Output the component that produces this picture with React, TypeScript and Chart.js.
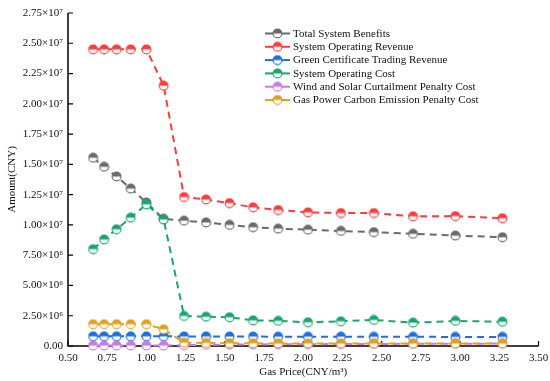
import React, { useEffect, useRef } from "react";
import { Chart, registerables } from "chart.js";

Chart.register(...registerables);

const gasPrice = [0.66, 0.73, 0.81, 0.9, 1.0, 1.11, 1.24, 1.38, 1.53, 1.68, 1.84, 2.03, 2.24, 2.45, 2.7, 2.97, 3.27];

const totalSystemBenefits = [1.555e7, 1.48e7, 1.4e7, 1.3e7, 1.185e7, 1.05e7, 1.035e7, 1.02e7, 1.0e7, 0.981e7, 0.969e7, 0.961e7, 0.95e7, 0.94e7, 0.926e7, 0.912e7, 0.898e7];
const systemOperatingRevenue = [2.45e7, 2.45e7, 2.45e7, 2.45e7, 2.45e7, 2.15e7, 1.23e7, 1.21e7, 1.18e7, 1.145e7, 1.123e7, 1.104e7, 1.098e7, 1.098e7, 1.071e7, 1.073e7, 1.055e7];
const greenCertificateRevenue = [0.08e7, 0.08e7, 0.08e7, 0.08e7, 0.08e7, 0.08e7, 0.079e7, 0.079e7, 0.078e7, 0.078e7, 0.077e7, 0.077e7, 0.077e7, 0.076e7, 0.076e7, 0.075e7, 0.075e7];
const systemOperatingCost = [0.8e7, 0.88e7, 0.964e7, 1.06e7, 1.17e7, 1.045e7, 0.248e7, 0.242e7, 0.237e7, 0.212e7, 0.207e7, 0.196e7, 0.204e7, 0.215e7, 0.193e7, 0.207e7, 0.2e7];
const curtailmentPenalty = [0.004e7, 0.004e7, 0.004e7, 0.004e7, 0.004e7, 0.004e7, 0.008e7, 0.01e7, 0.012e7, 0.013e7, 0.014e7, 0.015e7, 0.016e7, 0.017e7, 0.018e7, 0.019e7, 0.02e7];
const carbonPenalty = [0.18e7, 0.18e7, 0.18e7, 0.18e7, 0.18e7, 0.138e7, 0.027e7, 0.025e7, 0.023e7, 0.022e7, 0.021e7, 0.021e7, 0.02e7, 0.02e7, 0.02e7, 0.02e7, 0.02e7];

const seriesLabels = [
  "Total System Benefits",
  "System Operating Revenue",
  "Green Certificate Trading Revenue",
  "System Operating Cost",
  "Wind and Solar Curtailment Penalty Cost",
  "Gas Power Carbon Emission Penalty Cost",
];
const seriesValues = [
  totalSystemBenefits,
  systemOperatingRevenue,
  greenCertificateRevenue,
  systemOperatingCost,
  curtailmentPenalty,
  carbonPenalty,
];
const seriesColors = ["#6a6a6a", "#ff3b3b", "#1f6fe0", "#16a86b", "#c879e6", "#e3a019"];

const xTicks = [0.5, 0.75, 1.0, 1.25, 1.5, 1.75, 2.0, 2.25, 2.5, 2.75, 3.0, 3.25, 3.5];

const FONT = "'Liberation Serif', 'Times New Roman', serif";
const SUP: Record<string, string> = { "0": "⁰", "1": "¹", "2": "²", "3": "³", "4": "⁴", "5": "⁵", "6": "⁶", "7": "⁷", "8": "⁸", "9": "⁹", "-": "⁻" };

function sciLabel(v: number): string {
  if (Math.abs(v) < 1e-9) return "0.00";
  const e = Math.floor(Math.log10(v) + 1e-9);
  const m = v / Math.pow(10, e);
  return m.toFixed(2) + "×10" + String(e).split("").map((c) => SUP[c] || c).join("");
}

function makeMarker(color: string): HTMLCanvasElement {
  const c = document.createElement("canvas");
  c.width = 11;
  c.height = 11;
  const g = c.getContext("2d")!;
  const cx = 5.5, cy = 5.5, r = 4.4;
  g.beginPath();
  g.arc(cx, cy, r, 0, Math.PI * 2);
  g.fillStyle = "#ffffff";
  g.fill();
  g.beginPath();
  g.arc(cx, cy, r, Math.PI, Math.PI * 2);
  g.closePath();
  g.fillStyle = color;
  g.fill();
  g.beginPath();
  g.arc(cx, cy, r, 0, Math.PI * 2);
  g.lineWidth = 1.1;
  g.strokeStyle = color;
  g.stroke();
  return c;
}

export default function App() {
  const ref = useRef<HTMLCanvasElement | null>(null);

  useEffect(() => {
    if (!ref.current) return;
    const markers = seriesColors.map(makeMarker);

    const axesPlugin = {
      id: "axesPlugin",
      beforeDatasetsDraw(chart: any) {
        const { ctx, chartArea } = chart;
        const { left, right, top, bottom } = chartArea;
        const xs = chart.scales.x;
        const ys = chart.scales.y;
        ctx.save();
        ctx.strokeStyle = "#000";
        ctx.lineWidth = 1.5;
        ctx.beginPath();
        ctx.moveTo(left, top);
        ctx.lineTo(left, bottom);
        ctx.lineTo(right, bottom);
        ctx.stroke();
        ctx.lineWidth = 1.2;
        ctx.beginPath();
        ys.ticks.forEach((t: any) => {
          const py = ys.getPixelForValue(t.value);
          ctx.moveTo(left, py);
          ctx.lineTo(left + 5, py);
        });
        xs.ticks.forEach((t: any) => {
          const r = t.value / 0.5;
          if (Math.abs(r - Math.round(r)) < 1e-6) {
            const px = xs.getPixelForValue(t.value);
            ctx.moveTo(px, bottom);
            ctx.lineTo(px, bottom - 5);
          }
        });
        ctx.stroke();
        ctx.restore();
      },
    };

    const legendPlugin = {
      id: "customLegend",
      afterDraw(chart: any) {
        const { ctx } = chart;
        ctx.save();
        const x0 = 265, x1 = 290, y0 = 33.5, dy = 13.3;
        ctx.font = `11px ${FONT}`;
        ctx.textBaseline = "middle";
        ctx.textAlign = "left";
        chart.data.datasets.forEach((ds: any, i: number) => {
          const y = y0 + i * dy;
          ctx.strokeStyle = ds.borderColor;
          ctx.lineWidth = 2;
          ctx.setLineDash([]);
          ctx.beginPath();
          ctx.moveTo(x0, y);
          ctx.lineTo(x1, y);
          ctx.stroke();
          const m = markers[i];
          ctx.drawImage(m, (x0 + x1) / 2 - m.width / 2, y - m.height / 2);
          ctx.fillStyle = "#111";
          ctx.fillText(ds.label, 293, y + 0.5);
        });
        ctx.restore();
      },
    };

    const chart = new Chart(ref.current, {
      type: "line",
      data: {
        datasets: seriesLabels.map((label, i) => ({
          label,
          data: gasPrice.map((x, j) => ({ x, y: seriesValues[i][j] })),
          borderColor: seriesColors[i],
          backgroundColor: seriesColors[i],
          borderWidth: 2,
          borderDash: [7, 5],
          pointStyle: markers[i],
          pointRadius: 5,
          tension: 0,
          clip: false as any,
          order: 5 - i,
        })),
      },
      options: {
        animation: false,
        responsive: false,
        maintainAspectRatio: false,
        devicePixelRatio: 1,
        layout: { padding: { top: 13, right: 11.5, left: 0, bottom: 0 } },
        plugins: { legend: { display: false }, tooltip: { enabled: false } },
        scales: {
          x: {
            type: "linear",
            min: 0.5,
            max: 3.5,
            afterBuildTicks: (scale: any) => {
              scale.ticks = xTicks.map((v) => ({ value: v }));
            },
            afterFit: (scale: any) => {
              scale.height = 35;
              scale.paddingLeft = 0;
              scale.paddingRight = 0;
            },
            grid: { display: false, drawTicks: false },
            border: { display: false },
            ticks: {
              padding: 6,
              color: "#111",
              font: { family: FONT, size: 11 },
              maxRotation: 0,
              autoSkip: false,
              callback: (v: any) => Number(v).toFixed(2),
            },
            title: {
              display: true,
              text: "Gas Price(CNY/m³)",
              color: "#111",
              font: { family: FONT, size: 11 },
              padding: { top: 0, bottom: 2 },
            },
          },
          y: {
            type: "linear",
            min: 0,
            max: 2.75e7,
            afterFit: (scale: any) => {
              scale.width = 68;
              scale.paddingTop = 0;
              scale.paddingBottom = 0;
            },
            grid: { display: false, drawTicks: false },
            border: { display: false },
            ticks: {
              stepSize: 2.5e6,
              padding: 5,
              color: "#111",
              font: { family: FONT, size: 11 },
              autoSkip: false,
              callback: (v: any) => sciLabel(Number(v)),
            },
            title: {
              display: true,
              text: "Amount(CNY)",
              color: "#111",
              font: { family: FONT, size: 11 },
              padding: { top: 6, bottom: 0 },
            },
          },
        },
      },
      plugins: [axesPlugin, legendPlugin],
    });
    return () => chart.destroy();
  }, []);

  return (
    <div style={{ position: "fixed", left: 0, top: 0, width: 550, height: 381, background: "#fff" }}>
      <canvas ref={ref} width={550} height={381} style={{ width: 550, height: 381, display: "block" }} />
    </div>
  );
}
